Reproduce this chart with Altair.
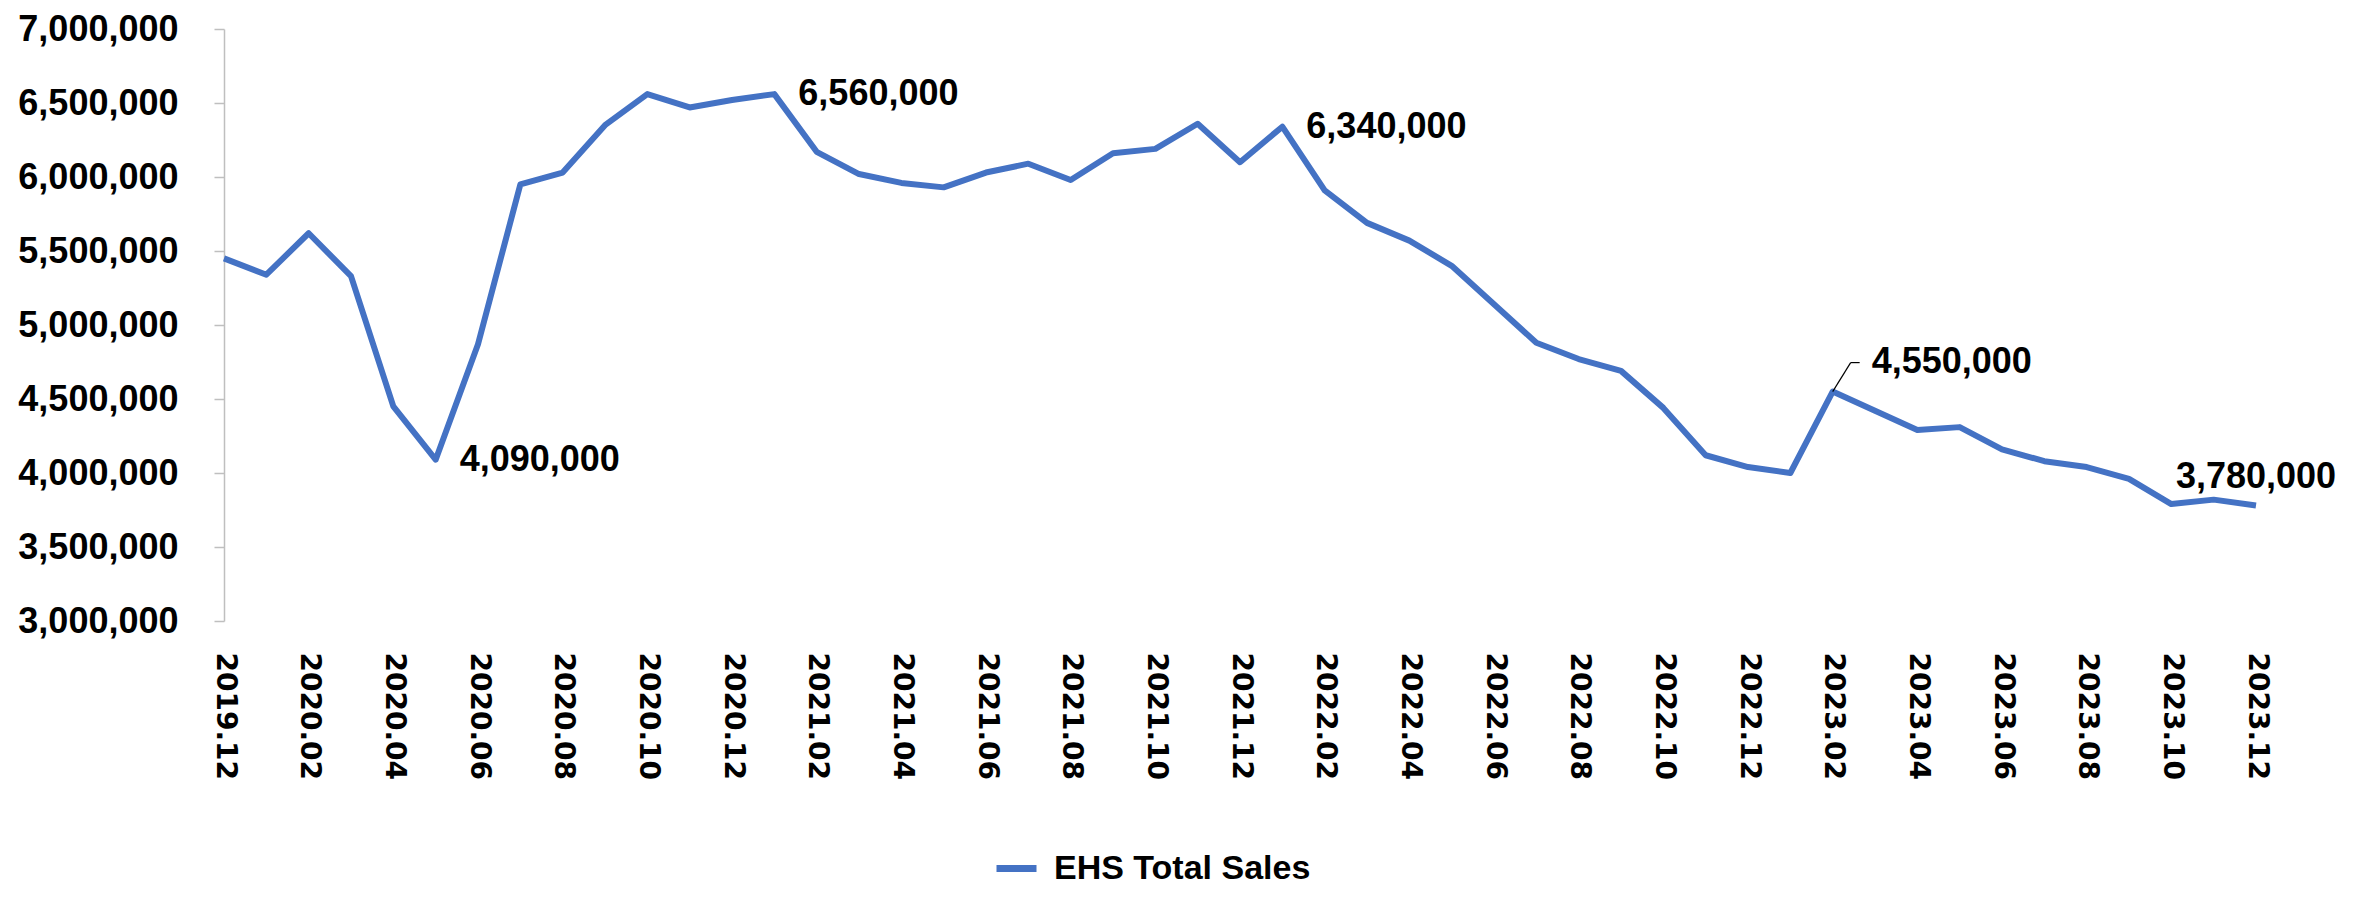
import altair as alt
import pandas as pd

months = [
    "2019.12",
    "2020.01", "2020.02", "2020.03", "2020.04", "2020.05", "2020.06",
    "2020.07", "2020.08", "2020.09", "2020.10", "2020.11", "2020.12",
    "2021.01", "2021.02", "2021.03", "2021.04", "2021.05", "2021.06",
    "2021.07", "2021.08", "2021.09", "2021.10", "2021.11", "2021.12",
    "2022.01", "2022.02", "2022.03", "2022.04", "2022.05", "2022.06",
    "2022.07", "2022.08", "2022.09", "2022.10", "2022.11", "2022.12",
    "2023.01", "2023.02", "2023.03", "2023.04", "2023.05", "2023.06",
    "2023.07", "2023.08", "2023.09", "2023.10", "2023.11", "2023.12",
]

sales = [
    5450000,
    5340000, 5620000, 5330000, 4450000, 4090000, 4870000,
    5950000, 6030000, 6350000, 6560000, 6470000, 6520000,
    6560000, 6170000, 6020000, 5960000, 5930000, 6030000,
    6090000, 5980000, 6160000, 6190000, 6360000, 6100000,
    6340000, 5910000, 5690000, 5570000, 5400000, 5140000,
    4880000, 4770000, 4690000, 4440000, 4120000, 4040000,
    4000000, 4550000, 4420000, 4290000, 4310000, 4160000,
    4080000, 4040000, 3960000, 3790000, 3820000, 3780000,
]

series_name = "EHS Total Sales"
tick_months = months[::2]
y_ticks = [3000000, 3500000, 4000000, 4500000, 5000000, 5500000, 6000000, 6500000, 7000000]

right_label_months = ["2020.05", "2021.01", "2022.01"]
leader_label_months = ["2023.02"]
top_label_months = ["2023.12"]

df = pd.DataFrame({"month": months, "value": sales, "series": series_name})

def subset(ms):
    return df[df["month"].isin(ms)].reset_index(drop=True)

BLUE = "#4472C4"
LABEL_FONT = "Liberation Sans"
AXIS_GRAY = "#BFBFBF"

x_enc = alt.X(
    "month:O",
    sort=months,
    scale=alt.Scale(type="point", padding=0),
    axis=alt.Axis(
        values=tick_months,
        labelAngle=90,
        domain=False,
        ticks=False,
        labelPadding=31,
        labelFont="DejaVu Sans",
        labelFontWeight="bold",
        labelFontSize=28,
        labelColor="black",
        title=None,
    ),
)
y_enc = alt.Y(
    "value:Q",
    scale=alt.Scale(domain=[3000000, 7000000], nice=False, zero=False),
    axis=alt.Axis(
        values=y_ticks,
        labelExpr="format(datum.value, ',')",
        grid=False,
        domainColor=AXIS_GRAY,
        domainWidth=1.5,
        tickColor=AXIS_GRAY,
        tickWidth=1.5,
        tickSize=10,
        labelPadding=36,
        labelFont=LABEL_FONT,
        labelFontWeight="bold",
        labelFontSize=36,
        labelColor="black",
        title=None,
    ),
)

line = alt.Chart(df).mark_line(strokeWidth=6, strokeJoin="round").encode(
    x=x_enc,
    y=y_enc,
    color=alt.Color(
        "series:N",
        scale=alt.Scale(range=[BLUE]),
        legend=alt.Legend(
            title=None,
            orient="none",
            legendX=769,
            legendY=816,
            symbolType="stroke",
            symbolSize=1600,
            symbolStrokeWidth=7,
            labelFont=LABEL_FONT,
            labelFontSize=34,
            labelFontWeight="bold",
            labelColor="black",
            labelLimit=600,
            labelOffset=14,
        ),
    ),
)

text_kw = dict(font=LABEL_FONT, fontSize=36, fontWeight="bold", color="black")

right_labels = alt.Chart(subset(right_label_months)).mark_text(
    align="left", baseline="middle", dx=24, **text_kw
).encode(x=x_enc, y=y_enc, text=alt.Text("value:Q", format=","))

leader_label = alt.Chart(subset(leader_label_months)).mark_text(
    align="left", baseline="middle", dx=39, dy=-30, **text_kw
).encode(x=x_enc, y=y_enc, text=alt.Text("value:Q", format=","))

top_label = alt.Chart(subset(top_label_months)).mark_text(
    align="center", baseline="middle", dy=-29, **text_kw
).encode(x=x_enc, y=y_enc, text=alt.Text("value:Q", format=","))

leader_diag = alt.Chart(subset(leader_label_months)).mark_rule(
    color="black", strokeWidth=1.2, x2Offset=18, y2Offset=-29
).encode(x=x_enc, y=y_enc, x2=alt.X2("month"), y2=alt.Y2("value"))

leader_flat = alt.Chart(subset(leader_label_months)).mark_rule(
    color="black", strokeWidth=1.2, xOffset=18, x2Offset=27, yOffset=-29, y2Offset=-29
).encode(x=x_enc, y=y_enc, x2=alt.X2("month"), y2=alt.Y2("value"))

chart = alt.layer(
    line, leader_diag, leader_flat, right_labels, leader_label, top_label
).properties(
    width=2032,
    height=592,
    autosize=alt.AutoSizeParams(type="none"),
    padding={"left": 216, "top": 21, "right": 100, "bottom": 267},
    background="white",
).configure_view(stroke=None)

chart.save("out.html", embed_options={"renderer": "svg", "actions": False})
